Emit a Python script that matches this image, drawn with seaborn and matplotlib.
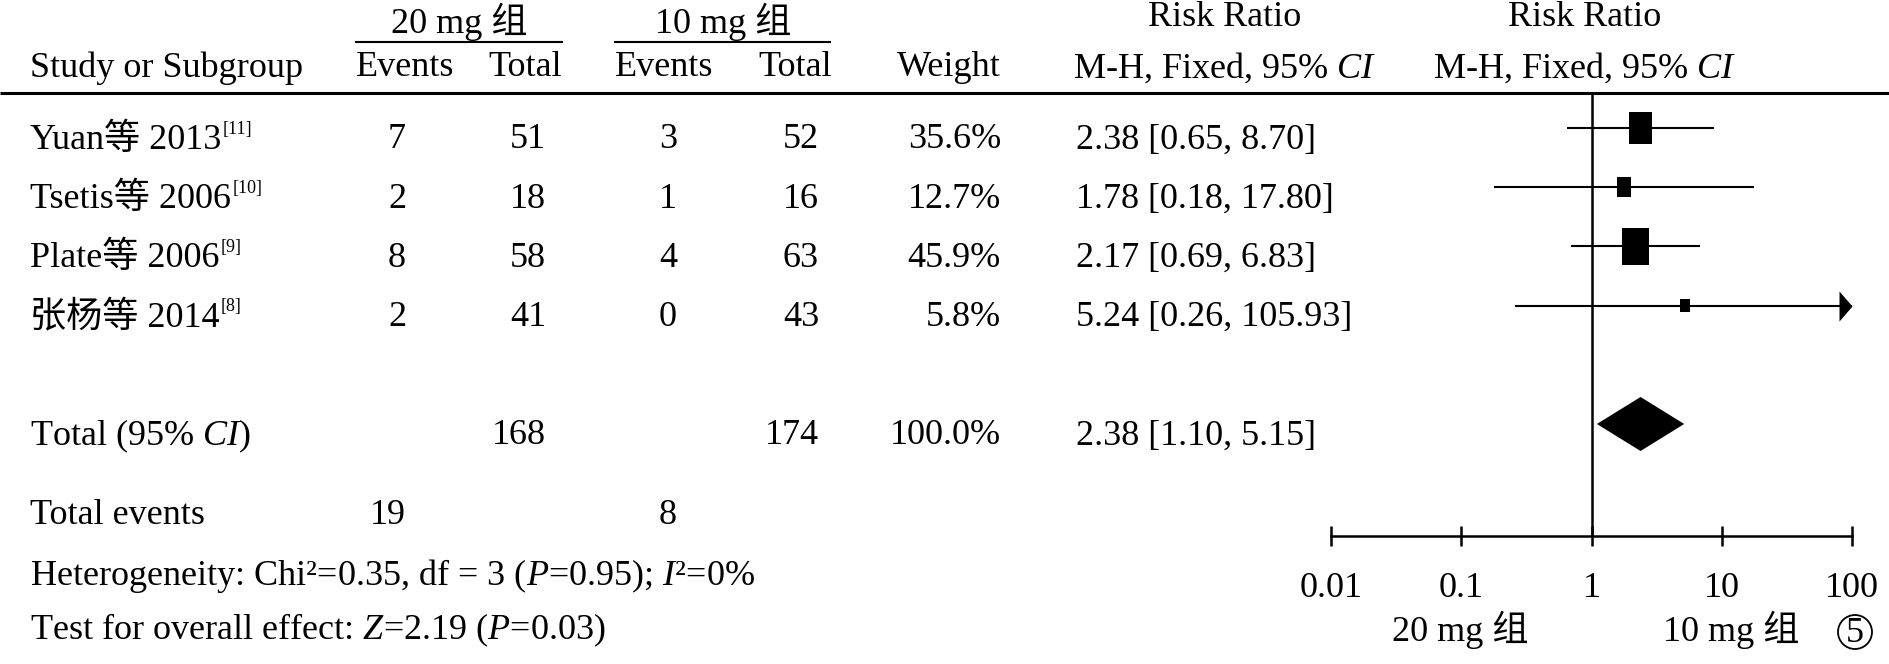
import numpy as np
import pandas as pd
import matplotlib.pyplot as plt
import seaborn as sns
from matplotlib import transforms
from matplotlib.path import Path
from matplotlib.patches import Circle
from matplotlib.ticker import NullLocator

# Data
studies = ["Yuan等 2013", "Tsetis等 2006", "Plate等 2006", "张杨等 2014"]
refs = ["[11]", "[10]", "[9]", "[8]"]
events_20 = [7, 2, 8, 2]
total_20 = [51, 18, 58, 41]
events_10 = [3, 1, 4, 0]
total_10 = [52, 16, 63, 43]
weights = [35.6, 12.7, 45.9, 5.8]
rr = [2.38, 1.78, 2.17, 5.24]
ci_low = [0.65, 0.18, 0.69, 0.26]
ci_high = [8.70, 17.80, 6.83, 105.93]

pooled = {"rr": 2.38, "lo": 1.10, "hi": 5.15}
pooled_total_20, pooled_total_10 = 168, 174
pooled_events_20, pooled_events_10 = 19, 8

tick_values = [0.01, 0.1, 1, 10, 100]
tick_labels = ["0.01", "0.1", "1", "10", "100"]

rows = list(range(len(studies)))
total_row = 5

# Styling
sns.set_theme(style="white")
FONT = ["Liberation Serif", "Noto Sans CJK SC"]
FS = 26
plt.rcParams["font.family"] = FONT
plt.rcParams["font.size"] = FS
plt.rcParams["mathtext.fontset"] = "custom"
plt.rcParams["mathtext.rm"] = "Liberation Serif"
plt.rcParams["mathtext.it"] = "Liberation Serif:italic"
plt.rcParams["text.color"] = "black"

W, H = 1889, 664
fig = plt.figure(figsize=(W / 100, H / 100), dpi=100)
fig.patch.set_facecolor("white")

# full-figure axes for the table text (pixel coordinates)
tax = fig.add_axes([0, 0, 1, 1])
tax.set_xlim(0, W)
tax.set_ylim(H, 0)
tax.axis("off")

# forest axes
ax = fig.add_axes([1331 / W, 1 - 536 / H, (1852 - 1331) / W, (536 - 93) / H])
ax.set_facecolor("none")

df = pd.DataFrame({"study": studies, "rr": rr, "lo": ci_low, "hi": ci_high,
                   "weight": weights, "row": rows})

ax.axvline(1, color="black", lw=1.8, zorder=1)
ax.hlines(df["row"], df["lo"], np.minimum(df["hi"], 100), color="black", lw=1.5, clip_on=False, zorder=2)

box = Path([(-0.36, -0.5), (0.36, -0.5), (0.36, 0.5), (-0.36, 0.5), (-0.36, -0.5)],
           [Path.MOVETO, Path.LINETO, Path.LINETO, Path.LINETO, Path.CLOSEPOLY])
sns.scatterplot(data=df, x="rr", y="row", size="weight",
                sizes=(15.4 * min(weights), 15.4 * max(weights)),
                size_norm=(min(weights), max(weights)),
                marker=box, color="black", linewidth=0, legend=False,
                ax=ax, clip_on=False, zorder=3)

# arrow for CI running past the axis
arrow = Path([(-0.433, -0.5), (0, 0), (-0.433, 0.5), (-0.433, -0.5)],
             [Path.MOVETO, Path.LINETO, Path.LINETO, Path.CLOSEPOLY])
capped = df[df["hi"] > 100]
ax.scatter(np.full(len(capped), 100), capped["row"], marker=arrow, s=467,
           color="black", linewidth=0, clip_on=False, zorder=3)

# pooled diamond
h = 27 / 59.2
ax.fill([pooled["lo"], pooled["rr"], pooled["hi"], pooled["rr"]],
        [total_row, total_row - h, total_row, total_row + h],
        color="black", lw=0, zorder=3)

ax.set_xscale("log")
ax.set_xlim(0.01, 100)
ax.set_ylim(6.892, -0.591)
ax.set_xticks(tick_values, tick_labels)
ax.xaxis.set_minor_locator(NullLocator())
ax.set_yticks([])
ax.set_xlabel("")
ax.set_ylabel("")
for s in ["top", "left", "right"]:
    ax.spines[s].set_visible(False)
ax.spines["bottom"].set_linewidth(1.8)
ax.spines["bottom"].set_color("black")
ax.tick_params(axis="x", bottom=True, direction="inout", length=14.4, width=1.8,
               pad=19, labelsize=FS, colors="black")

tax.text(1460, 630, "20 mg 组", ha="center", va="center")
tax.text(1731, 630, "10 mg 组", ha="center", va="center")
tax.add_patch(Circle((1855, 632), 17, fill=False, lw=1.3, ec="black"))
tax.text(1855, 633, "5", ha="center", va="center", fontsize=FS)

# header
tax.text(459, 22, "20 mg 组", ha="center", va="center")
tax.text(723, 22, "10 mg 组", ha="center", va="center")
tax.hlines(42, 355, 563, color="black", lw=1.5)
tax.hlines(42, 614, 831, color="black", lw=1.5)
tax.text(1225, 18, "Risk Ratio", ha="center", va="center")
tax.text(1585, 18, "Risk Ratio", ha="center", va="center")

hy = 68
tax.text(30, hy, "Study or Subgroup", ha="left", va="center")
tax.text(405, hy, "Events", ha="center", va="center")
tax.text(525, hy, "Total", ha="center", va="center")
tax.text(664, hy, "Events", ha="center", va="center")
tax.text(795, hy, "Total", ha="center", va="center")
tax.text(1001, hy, "Weight", ha="right", va="center")
tax.text(1225, hy, r"M-H, Fixed, 95% $\mathit{CI}$", ha="center", va="center")
tax.text(1585, hy, r"M-H, Fixed, 95% $\mathit{CI}$", ha="center", va="center")
tax.hlines(93, 0, W, color="black", lw=2.2)

# study rows, text aligned to the forest rows
row_tr = transforms.offset_copy(
    transforms.blended_transform_factory(tax.transData, ax.transData),
    fig=fig, y=-12, units="dots")

for i in rows:
    name = tax.text(30, rows[i], studies[i], transform=row_tr, ha="left", va="center")
    tax.annotate(refs[i], xy=(1, 1), xycoords=name, xytext=(1, 2),
                 textcoords="offset points", fontsize=FS * 0.5, ha="left", va="top")
    tax.text(406, rows[i], str(events_20[i]), transform=row_tr, ha="right", va="center")
    tax.text(546, rows[i], str(total_20[i]), transform=row_tr, ha="right", va="center")
    tax.text(677, rows[i], str(events_10[i]), transform=row_tr, ha="right", va="center")
    tax.text(819, rows[i], str(total_10[i]), transform=row_tr, ha="right", va="center")
    tax.text(1001, rows[i], f"{weights[i]:.1f}%", transform=row_tr, ha="right", va="center")
    tax.text(1076, rows[i], f"{rr[i]:.2f} [{ci_low[i]:.2f}, {ci_high[i]:.2f}]",
             transform=row_tr, ha="left", va="center")

# total row
tax.text(30, total_row, r"Total (95% $\mathit{CI}$)", transform=row_tr, ha="left", va="center")
tax.text(546, total_row, str(pooled_total_20), transform=row_tr, ha="right", va="center")
tax.text(819, total_row, str(pooled_total_10), transform=row_tr, ha="right", va="center")
tax.text(1001, total_row, f"{sum(weights):.1f}%", transform=row_tr, ha="right", va="center")
tax.text(1076, total_row, f"{pooled['rr']:.2f} [{pooled['lo']:.2f}, {pooled['hi']:.2f}]",
         transform=row_tr, ha="left", va="center")

# footer
tax.text(30, 516, "Total events", ha="left", va="center")
tax.text(406, 516, str(pooled_events_20), ha="right", va="center")
tax.text(677, 516, str(pooled_events_10), ha="right", va="center")
tax.text(30, 576, r"Heterogeneity: Chi²=0.35, df = 3 ($\mathit{P}$=0.95); $\mathit{I}$²=0%",
         ha="left", va="center")
tax.text(30, 630, r"Test for overall effect: $\mathit{Z}$=2.19 ($\mathit{P}$=0.03)",
         ha="left", va="center")

fig.savefig("out.png", dpi=100, facecolor="white")
